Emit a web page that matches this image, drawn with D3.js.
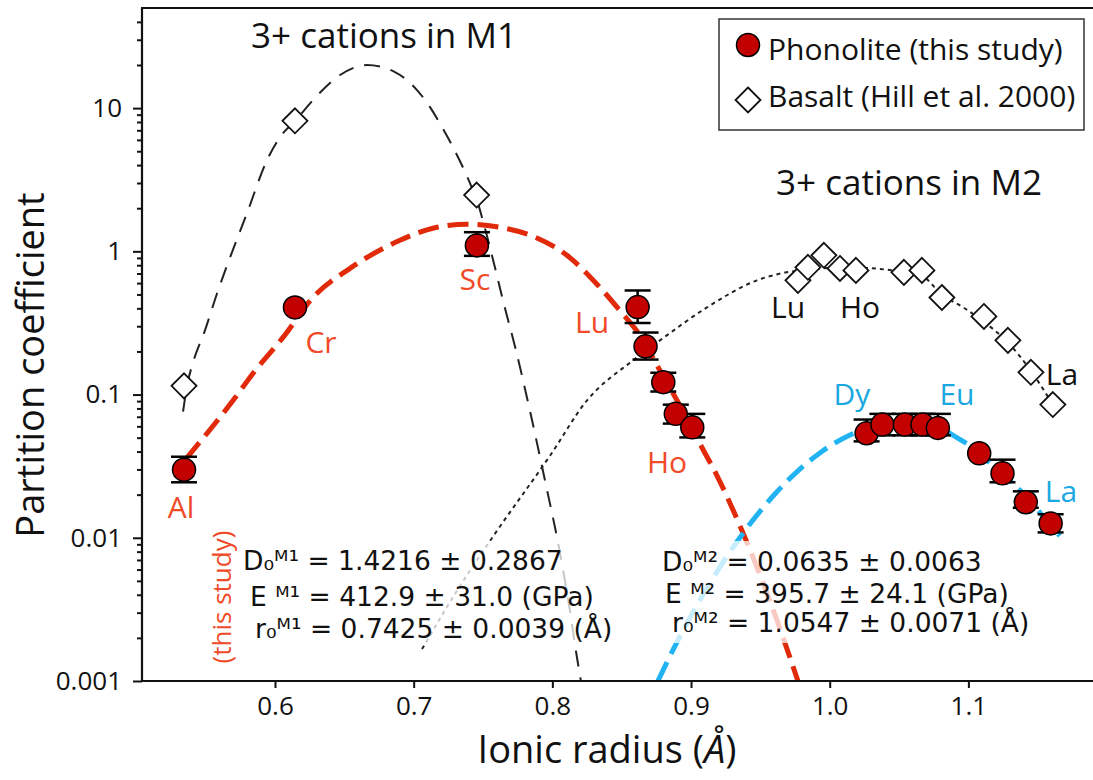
<!DOCTYPE html>
<html><head><meta charset="utf-8">
<script src="https://cdn.jsdelivr.net/npm/d3@7"></script>
<style>body{margin:0;background:#fff} svg{display:block}</style>
</head><body><svg id="c" width="1093" height="780"></svg>
<script>
// ---------------- data ----------------
const phonoliteElements = ["Al","Cr","Sc","Lu","Yb","Tm","Er","Ho","Dy","Tb","Gd","Eu","Sm","Nd","Pr","Ce","La"];
const phonoliteRadius = [0.5344,0.6144,0.7456,0.8615,0.8672,0.8800,0.8890,0.9009,1.0266,1.0380,1.0542,1.0669,1.0780,1.1078,1.1246,1.1414,1.1593];
const phonoliteD      = [0.0299,0.406,1.10,0.408,0.217,0.122,0.0733,0.059,0.0537,0.0617,0.0617,0.0617,0.0585,0.0389,0.0282,0.0177,0.0126];
const phonoliteLow    = [0.0244,null,0.93,0.316,0.1755,0.105,0.0627,0.0502,0.0471,0.0519,0.0519,0.0519,0.0519,null,0.0244,0.0162,0.0109];
const phonoliteHigh   = [0.0368,null,1.36,0.533,0.271,0.142,0.085,0.0733,0.0669,0.0733,0.0733,0.0733,0.0733,null,0.0351,0.0211,0.0146];

const basaltRadius = [0.5344,0.6144,0.7454,0.9771,0.9843,0.9958,1.0074,1.0189,1.0535,1.0665,1.0809,1.1112,1.1285,1.1451,1.1609];
const basaltD      = [0.115,8.15,2.47,0.627,0.773,0.938,0.760,0.736,0.713,0.736,0.476,0.351,0.239,0.143,0.0851];

// fitted lattice-strain curves
const fitM1Radius = [0.5358,0.5697,0.5841,0.6058,0.6274,0.6541,0.6901,0.7139,0.7384,0.7622,0.7860,0.8105,0.8343,0.8487,0.8632,0.8776,0.8920,0.9064,0.9187,0.9374,0.9569,0.9771];
const fitM1D      = [0.0356,0.0908,0.1403,0.2506,0.4764,0.7603,1.194,1.449,1.545,1.472,1.274,0.938,0.560,0.386,0.259,0.147,0.0838,0.0454,0.0272,0.01084,0.00362,0.001];

const fitM2Radius = [0.8761,0.8920,0.9115,0.9280,0.9403,0.9605,0.9785,0.9929,1.0146,1.0326,1.0549,1.0758,1.0917,1.1032,1.1155,1.1299,1.1443,1.1552,1.1660];
const fitM2D      = [0.001,0.00205,0.00446,0.00796,0.0117,0.0202,0.0302,0.0391,0.0522,0.0604,0.0644,0.0607,0.0500,0.0425,0.0334,0.0251,0.0182,0.0136,0.0103];

const hillM1Radius = [0.5337,0.5366,0.5409,0.5495,0.5582,0.5676,0.5798,0.5942,0.6058,0.6144,0.6274,0.6469,0.6663,0.6865,0.7024,0.7118,0.7204,0.7276,0.7348,0.7406,0.7456,0.7514,0.7586,0.7644,0.7738,0.7838,0.7947,0.8055,0.8127,0.8170,0.8206];
const hillM1D      = [0.0760,0.1156,0.1675,0.2805,0.508,0.908,1.845,4.325,6.68,8.11,11.38,17.02,20.0,17.86,13.37,10.16,7.36,5.51,3.99,2.99,2.275,1.449,0.773,0.454,0.203,0.0773,0.0251,0.00785,0.00309,0.00162,0.001];

const hillM2Radius = [0.7060,0.7334,0.7601,0.7983,0.8249,0.8581,0.8776,0.9115,0.9475,0.9785,1.0146,1.0456,1.0650,1.0809,1.0975,1.1119,1.1285,1.1458,1.1609];
const hillM2D      = [0.00167,0.00461,0.0112,0.0374,0.0908,0.173,0.239,0.406,0.627,0.736,0.773,0.736,0.690,0.500,0.399,0.318,0.231,0.143,0.0851];

const xTicks = [0.6,0.7,0.8,0.9,1.0,1.1];
const xTickLabels = ["0.6","0.7","0.8","0.9","1.0","1.1"];
const yMajorTicks = [0.001,0.01,0.1,1,10];
const yMajorLabels = ["0.001","0.01","0.1","1","10"];

const eqM1 = ["D\u2080\u1D39\u00B9 = 1.4216 \u00B1 0.2867","E \u1D39\u00B9 = 412.9 \u00B1 31.0 (GPa)","r\u2080\u1D39\u00B9 = 0.7425 \u00B1 0.0039 (\u00C5)"];
const eqM2 = ["D\u2080\u1D39\u00B2 = 0.0635 \u00B1 0.0063","E \u1D39\u00B2 = 395.7 \u00B1 24.1 (GPa)","r\u2080\u1D39\u00B2 = 1.0547 \u00B1 0.0071 (\u00C5)"];

// ---------------- drawing ----------------
const svg = d3.select("#c");
const L = 142, T = 8, R = 1100, B = 681;
const x = d3.scaleLinear().domain([0.5041, 1.1913]).range([L, 1095]);
const y = d3.scaleLog().domain([0.001, 50]).range([B, T]);

const FONT = "'Open Sans', 'Noto Sans', sans-serif";
const RED_TXT = "#f04a28", BLUE_TXT = "#1ba8e2";

svg.append("defs").append("clipPath").attr("id","clip")
  .append("rect").attr("x",L).attr("y",T).attr("width",R-L).attr("height",B-T);

// frame (right edge lies outside the view)
svg.append("rect").attr("x",L).attr("y",T).attr("width",R-L).attr("height",B-T)
  .attr("fill","none").attr("stroke","#111").attr("stroke-width",2);

const plot = svg.append("g").attr("clip-path","url(#clip)");
const line = (rs, ds) => d3.line().x((d,i)=>x(rs[i])).y((d,i)=>y(ds[i])).curve(d3.curveMonotoneX)(rs);

plot.append("path").attr("d", line(hillM1Radius, hillM1D)).attr("fill","none")
  .attr("stroke","#222").attr("stroke-width",2).attr("stroke-dasharray","16,11");
plot.append("path").attr("d", line(hillM2Radius, hillM2D)).attr("fill","none")
  .attr("stroke","#222").attr("stroke-width",2).attr("stroke-dasharray","4,4");
plot.append("path").attr("d", line(fitM1Radius, fitM1D)).attr("fill","none")
  .attr("stroke","#e12a0a").attr("stroke-width",5).attr("stroke-dasharray","21,9");
plot.append("path").attr("d", line(fitM2Radius, fitM2D)).attr("fill","none")
  .attr("stroke","#22b4f2").attr("stroke-width",5).attr("stroke-dasharray","21,9");

// axes
const xAxis = d3.axisBottom(x).tickValues(xTicks).tickFormat((d,i)=>xTickLabels[i]).tickSize(7).tickSizeOuter(0);
const gx = svg.append("g").attr("transform",`translate(0,${B})`).call(xAxis);
gx.select(".domain").attr("stroke","#111").attr("stroke-width",2.2).attr("d",`M${L},0H${R}`);
gx.selectAll(".tick line").attr("stroke","#111").attr("stroke-width",2);
gx.selectAll(".tick text").attr("font-family",FONT).attr("font-size",26).attr("fill","#111").attr("y",34).attr("dy",0);

const minor = [];
[0.001,0.01,0.1,1,10].forEach(p => { for (let k=2;k<=9;k++){ const v=p*k; if (v<=45) minor.push(v);} });
const gyMinor = svg.append("g").attr("transform",`translate(${L},0)`)
  .call(d3.axisLeft(y).tickValues(minor).tickFormat("").tickSize(5).tickSizeOuter(0));
gyMinor.select(".domain").remove();
gyMinor.selectAll(".tick line").attr("stroke","#111").attr("stroke-width",2);

const gy = svg.append("g").attr("transform",`translate(${L},0)`)
  .call(d3.axisLeft(y).tickValues(yMajorTicks).tickFormat((d,i)=>yMajorLabels[i]).tickSize(9).tickPadding(11).tickSizeOuter(0));
gy.select(".domain").attr("stroke","#111").attr("stroke-width",2.2).attr("d",`M0,${B}V${T}`);
gy.selectAll(".tick line").attr("stroke","#111").attr("stroke-width",2);
gy.selectAll(".tick text").attr("font-family",FONT).attr("font-size",26).attr("fill","#111");

// axis titles
svg.append("text").attr("transform","translate(44,365) rotate(-90)").attr("text-anchor","middle")
  .attr("font-family",FONT).attr("font-size",38).attr("fill","#111").text("Partition coefficient");
const xt = svg.append("text").attr("x",607).attr("y",763).attr("text-anchor","middle")
  .attr("font-family",FONT).attr("font-size",38).attr("fill","#111");
xt.append("tspan").text("Ionic radius (");
xt.append("tspan").attr("font-style","italic").text("\u00C5");
xt.append("tspan").text(")");

// error bars
const gErr = svg.append("g");
phonoliteRadius.forEach((r,i) => {
  if (phonoliteLow[i]==null) return;
  const cx = x(r), y1 = y(phonoliteLow[i]), y2 = y(phonoliteHigh[i]);
  gErr.append("line").attr("x1",cx).attr("x2",cx).attr("y1",y1).attr("y2",y2).attr("stroke","#000").attr("stroke-width",2.5);
  [y1,y2].forEach(yy => gErr.append("line").attr("x1",cx-13).attr("x2",cx+13).attr("y1",yy).attr("y2",yy).attr("stroke","#000").attr("stroke-width",2.5));
});

// basalt diamonds
const diamond = "M0,-12.5L12.5,0L0,12.5L-12.5,0Z";
svg.append("g").selectAll("path").data(basaltRadius).join("path")
  .attr("d",diamond).attr("transform",(d,i)=>`translate(${x(d)},${y(basaltD[i])})`)
  .attr("fill","#fff").attr("stroke","#111").attr("stroke-width",1.8);

// phonolite circles
svg.append("g").selectAll("circle").data(phonoliteRadius).join("circle")
  .attr("cx",d=>x(d)).attr("cy",(d,i)=>y(phonoliteD[i])).attr("r",11.5)
  .attr("fill","#c20000").attr("stroke","#000").attr("stroke-width",1.5);

// equation boxes (semi-transparent)
svg.append("rect").attr("x",240).attr("y",541).attr("width",380).attr("height",104).attr("fill","#fff").attr("opacity",0.75);
svg.append("rect").attr("x",655).attr("y",541).attr("width",375).attr("height",102).attr("fill","#fff").attr("opacity",0.75);

const EQF = "'DejaVu Sans', sans-serif";
const eqPosM1 = [[243,570],[250,606],[255,638]];
const eqPosM2 = [[662,571],[665,603],[672,632]];
eqM1.forEach((t,i)=> svg.append("text").attr("x",eqPosM1[i][0]).attr("y",eqPosM1[i][1]).attr("font-family",EQF).attr("font-size",26.5).attr("fill","#111").text(t));
eqM2.forEach((t,i)=> svg.append("text").attr("x",eqPosM2[i][0]).attr("y",eqPosM2[i][1]).attr("font-family",EQF).attr("font-size",26.5).attr("fill","#111").text(t));

svg.append("text").attr("transform","translate(231,597) rotate(-90)").attr("text-anchor","middle")
  .attr("font-family",FONT).attr("font-size",26).attr("fill",RED_TXT).text("(this study)");

// titles
svg.append("text").attr("x",384).attr("y",48).attr("text-anchor","middle").attr("font-family",FONT).attr("font-size",35).attr("fill","#111").text("3+ cations in M1");
svg.append("text").attr("x",909).attr("y",195).attr("text-anchor","middle").attr("font-family",FONT).attr("font-size",35).attr("fill","#111").text("3+ cations in M2");

// element labels
const labels = [
  ["Al",181,518,RED_TXT],["Cr",321,353,RED_TXT],["Sc",475,290,RED_TXT],["Lu",592,333,RED_TXT],["Ho",667,473,RED_TXT],
  ["Lu",788,318,"#111"],["Ho",860,318,"#111"],["La",1062,385,"#111"],
  ["Dy",852,405,BLUE_TXT],["Eu",957,405,BLUE_TXT],["La",1061,502,BLUE_TXT]
];
labels.forEach(l => svg.append("text").attr("x",l[1]).attr("y",l[2]).attr("text-anchor","middle")
  .attr("font-family",FONT).attr("font-size",30).attr("fill",l[3]).text(l[0]));

// legend
const lg = svg.append("g");
lg.append("rect").attr("x",719).attr("y",19).attr("width",365).attr("height",111).attr("fill","#fff").attr("stroke","#333").attr("stroke-width",1.5);
lg.append("circle").attr("cx",748).attr("cy",45).attr("r",11.5).attr("fill","#c20000").attr("stroke","#000").attr("stroke-width",1.5);
lg.append("path").attr("d",diamond).attr("transform","translate(748,100)").attr("fill","#fff").attr("stroke","#111").attr("stroke-width",1.8);
lg.append("text").attr("x",768).attr("y",60).attr("font-family",FONT).attr("font-size",30).attr("fill","#111").text("Phonolite (this study)");
lg.append("text").attr("x",768).attr("y",107).attr("font-family",FONT).attr("font-size",30).attr("fill","#111").text("Basalt (Hill et al. 2000)");
</script>
</body></html>
